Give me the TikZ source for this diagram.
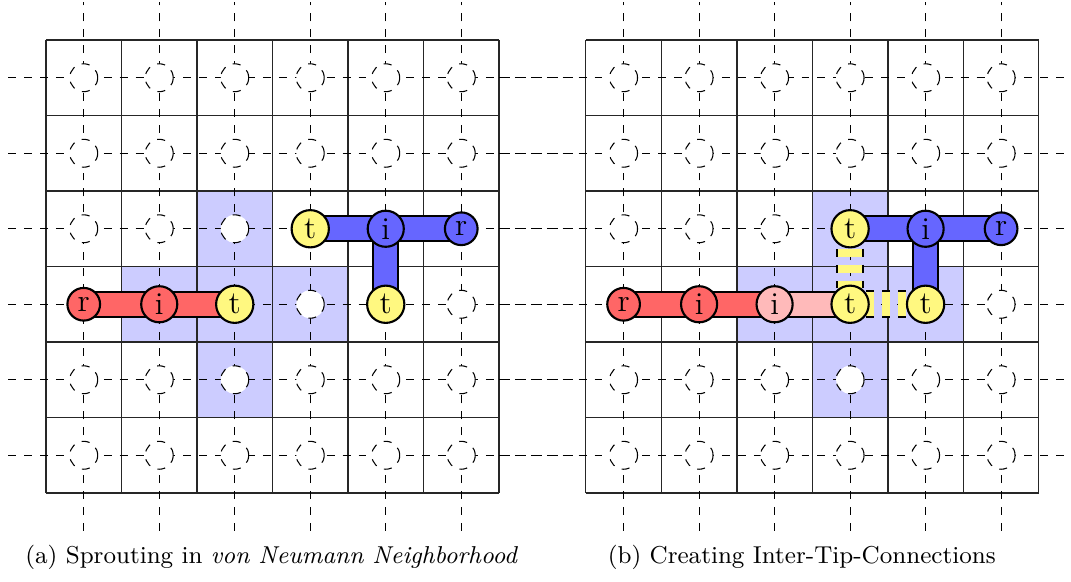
\documentclass[tikz,border=0pt]{standalone}
\pgfdeclarelayer{front}
\pgfsetlayers{main,front}
\tikzset{
  cellgrid/.style={line width=0.5pt, black!85},
  axisline/.style={dashed, line width=0.4pt},
  site/.style={circle, draw, dashed, line width=0.4pt, fill=white, minimum size=0.37cm, inner sep=0pt},
  nbh/.style={fill=blue!20},
  vnode/.style={circle, draw, line width=0.8pt, inner sep=1.9pt, font=\large},
  rnode/.style={vnode, fill=red!60},
  pnode/.style={vnode, fill=red!27},
  bnode/.style={vnode, fill=blue!60},
  tnode/.style={vnode, fill=yellow!50},
  barout/.style={line width=10.2pt, black, line cap=butt},
  barin/.style={line width=8.6pt, line cap=butt},
  linkout/.style={line width=10.5pt, black, dash pattern=on 3pt off 3pt, dash phase=4.5pt},
  linkin/.style={line width=8.9pt, yellow!50, dash pattern=on 3pt off 3pt, dash phase=4.5pt},
  caption/.style={font=\fontsize{9.2}{11}\selectfont, anchor=center}
}
\begin{document}
\begin{tikzpicture}
\useasboundingbox (-0.609,-1.166) rectangle (13.576,6.530);
% ---------- left panel ----------
\begin{scope}
  \fill[nbh] (2,3) rectangle (3,4) (1,2) rectangle (4,3) (2,1) rectangle (3,2);
  \draw[cellgrid] (0,0) grid (6,6);
  \foreach \i in {0,...,5} {
    \draw[axisline] (\i+0.5,-0.5) -- (\i+0.5,6.5);
    \draw[axisline] (-0.5,\i+0.5) -- (7.15,\i+0.5);
  }
  \foreach \i in {0,...,5} \foreach \j in {0,...,5}
    \node[site] (La-\i-\j) at (\i+0.5,\j+0.5) {};
  \begin{pgfonlayer}{front}
    \node[rnode] (Lr1) at (0.5,2.5) {r};
    \node[rnode] (Li1) at (1.5,2.5) {i};
    \node[tnode] (Lt1) at (2.5,2.5) {t};
    \node[tnode] (Lt2) at (3.5,3.5) {t};
    \node[bnode] (Li2) at (4.5,3.5) {i};
    \node[bnode] (Lr2) at (5.5,3.5) {r};
    \node[tnode] (Lt3) at (4.5,2.5) {t};
  \end{pgfonlayer}
  \draw[barout] (Lr1.center) -- (Lt1.center);
  \draw[barout] (Lt2.center) -- (Lr2.center);
  \draw[barout] (Li2.center) -- (Lt3.center);
  \draw[barin, red!60] (Lr1.center) -- (Lt1.center);
  \draw[barin, blue!60] (Lt2.center) -- (Lr2.center);
  \draw[barin, blue!60] (Li2.center) -- (Lt3.center);
\end{scope}
% ---------- right panel ----------
\begin{scope}[xshift=7.15cm]
  \fill[nbh] (3,3) rectangle (4,4) (2,2) rectangle (5,3) (3,1) rectangle (4,2);
  \draw[cellgrid] (0,0) grid (6,6);
  \foreach \i in {0,...,5} {
    \draw[axisline] (\i+0.5,-0.5) -- (\i+0.5,6.5);
    \draw[axisline] (-1.15,\i+0.5) -- (6.5,\i+0.5);
  }
  \foreach \i in {0,...,5} \foreach \j in {0,...,5}
    \node[site] (Ra-\i-\j) at (\i+0.5,\j+0.5) {};
  \begin{pgfonlayer}{front}
    \node[rnode] (Rr1) at (0.5,2.5) {r};
    \node[rnode] (Ri1) at (1.5,2.5) {i};
    \node[pnode] (Ri0) at (2.5,2.5) {i};
    \node[tnode] (Rt1) at (3.5,2.5) {t};
    \node[tnode] (Rt2) at (3.5,3.5) {t};
    \node[bnode] (Ri2) at (4.5,3.5) {i};
    \node[bnode] (Rr2) at (5.5,3.5) {r};
    \node[tnode] (Rt3) at (4.5,2.5) {t};
  \end{pgfonlayer}
  \draw[barout] (Rr1.center) -- (Rt1.center);
  \draw[barout] (Rt2.center) -- (Rr2.center);
  \draw[barout] (Ri2.center) -- (Rt3.center);
  \draw[barin, red!60] (Rr1.center) -- (Ri0.center);
  \draw[barin, red!27] (Ri0.center) -- (Rt1.center);
  \draw[barin, blue!60] (Rt2.center) -- (Rr2.center);
  \draw[barin, blue!60] (Ri2.center) -- (Rt3.center);
  \draw[linkout] (Rt2.center) -- (Rt1.center);
  \draw[linkout] (Rt3.center) -- (Rt1.center);
  \draw[linkin] (Rt2.center) -- (Rt1.center);
  \draw[linkin] (Rt3.center) -- (Rt1.center);
\end{scope}
% ---------- captions ----------
\node[caption] (capa) at (2.99,-0.85) {(a) Sprouting in \textit{von Neumann Neighborhood}};
\node[caption] (capb) at (10.01,-0.85) {(b) Creating Inter-Tip-Connections};
\end{tikzpicture}
\end{document}
